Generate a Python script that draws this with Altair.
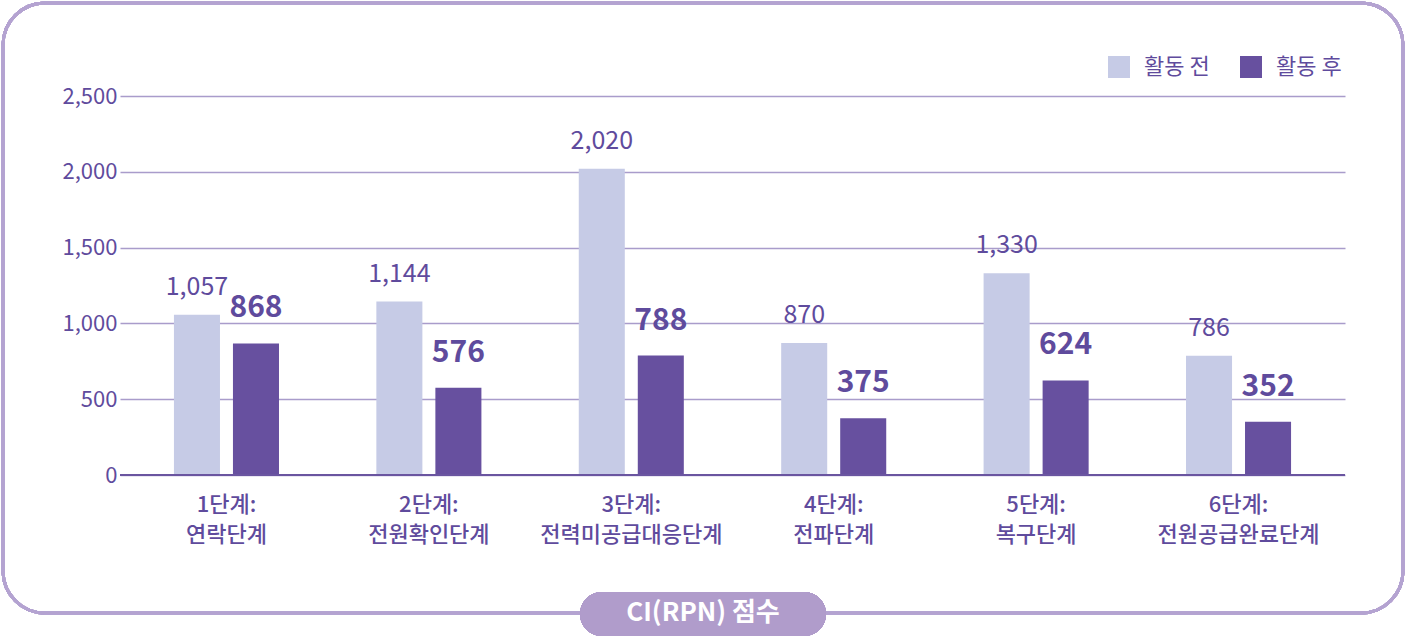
import altair as alt
import pandas as pd

categories = ["1단계: 연락단계", "2단계: 전원확인단계", "3단계: 전력미공급대응단계",
              "4단계: 전파단계", "5단계: 복구단계", "6단계: 전원공급완료단계"]
series = ["활동 전", "활동 후"]
before = [1057, 1144, 2020, 870, 1330, 786]
after = [868, 576, 788, 375, 624, 352]

rows = []
for c, b, a in zip(categories, before, after):
    rows.append({"cat": c, "series": series[0], "value": b})
    rows.append({"cat": c, "series": series[1], "value": a})
df = pd.DataFrame(rows)

FONT = "Noto Sans CJK KR"
TXT = "#5f4b9d"
LIGHT = "#c6cbe6"
DARK = "#67509f"

x_enc = alt.X("cat:N", sort=categories, title=None,
              scale=alt.Scale(paddingInner=0.481, paddingOuter=0.2665),
              axis=alt.Axis(labelExpr="[split(datum.label, ' ')[0], split(datum.label, ' ')[1]]",
                            labelAngle=0, labelFont=FONT, labelFontSize=22, labelFontWeight=500,
                            labelColor=TXT, labelLimit=400,
                            labelPadding=19, labelBaseline="top", labelLineHeight=30,
                            ticks=False, domain=False, grid=False))
xoff = alt.XOffset("series:N", sort=series, scale=alt.Scale(paddingInner=0.22, paddingOuter=0))
y_enc = alt.Y("value:Q", title=None,
              scale=alt.Scale(domain=[0, 2500], nice=False),
              axis=alt.Axis(values=[0, 500, 1000, 1500, 2000, 2500], format=",.0f",
                            labelFont=FONT, labelFontSize=22, labelColor=TXT,
                            labelPadding=3, ticks=False, domain=False,
                            gridColor="#a99ccb", gridWidth=1.5))

base = alt.Chart(df)

frame = alt.Chart(df).mark_rect(cornerRadius=42, fill="transparent", stroke="#b4a3d1",
                                strokeWidth=3).encode(
    x=alt.value(-117), x2=alt.value(1283), y=alt.value(-93), y2=alt.value(517))

bars = base.mark_bar().encode(
    x=x_enc, xOffset=xoff, y=y_enc,
    color=alt.Color("series:N", sort=series,
                    scale=alt.Scale(domain=series, range=[LIGHT, DARK]),
                    legend=alt.Legend(title=None, orient="none", legendX=988, legendY=-40,
                                      direction="horizontal", symbolType="square",
                                      symbolSize=484, symbolStrokeWidth=0,
                                      labelFont=FONT, labelFontSize=22, labelColor=TXT,
                                      labelOffset=14, columnPadding=30, padding=0))
)

zero = alt.Chart(df).mark_rule(color="#6a55a0", strokeWidth=2).encode(
    x=alt.value(0), x2=alt.value(1225), y=alt.value(379))

t_before = base.transform_filter(alt.datum.series == series[0]).mark_text(
    font=FONT, fontSize=25, color=TXT, baseline="alphabetic", dy=-20).encode(
    x=x_enc, xOffset=xoff, y=y_enc, text=alt.Text("value:Q", format=",.0f"))

t_after = base.transform_filter(alt.datum.series == series[1]).mark_text(
    font=FONT, fontSize=30, fontWeight="bold", color=TXT, baseline="alphabetic", dy=-26).encode(
    x=x_enc, xOffset=xoff, y=y_enc, text=alt.Text("value:Q", format=",.0f"))

pill = alt.Chart(df).mark_rect(cornerRadius=22, fill="#b09ccb").encode(
    x=alt.value(460), x2=alt.value(706), y=alt.value(496), y2=alt.value(540))

pill_text = alt.Chart(pd.DataFrame({"t": ["CI(RPN) 점수"]})).mark_text(
    font=FONT, fontSize=26, fontWeight="bold", color="white", baseline="middle").encode(
    x=alt.value(583), y=alt.value(517), text="t:N")

chart = alt.layer(frame, bars, zero, t_before, t_after, pill, pill_text).properties(
    width=1225, height=379,
    autosize=alt.AutoSizeParams(type="none"),
    padding={"left": 120, "top": 96, "right": 65, "bottom": 166},
).configure(background="white").configure_view(stroke=None)

chart.save("out.html", embed_options={"renderer": "svg", "actions": False})
